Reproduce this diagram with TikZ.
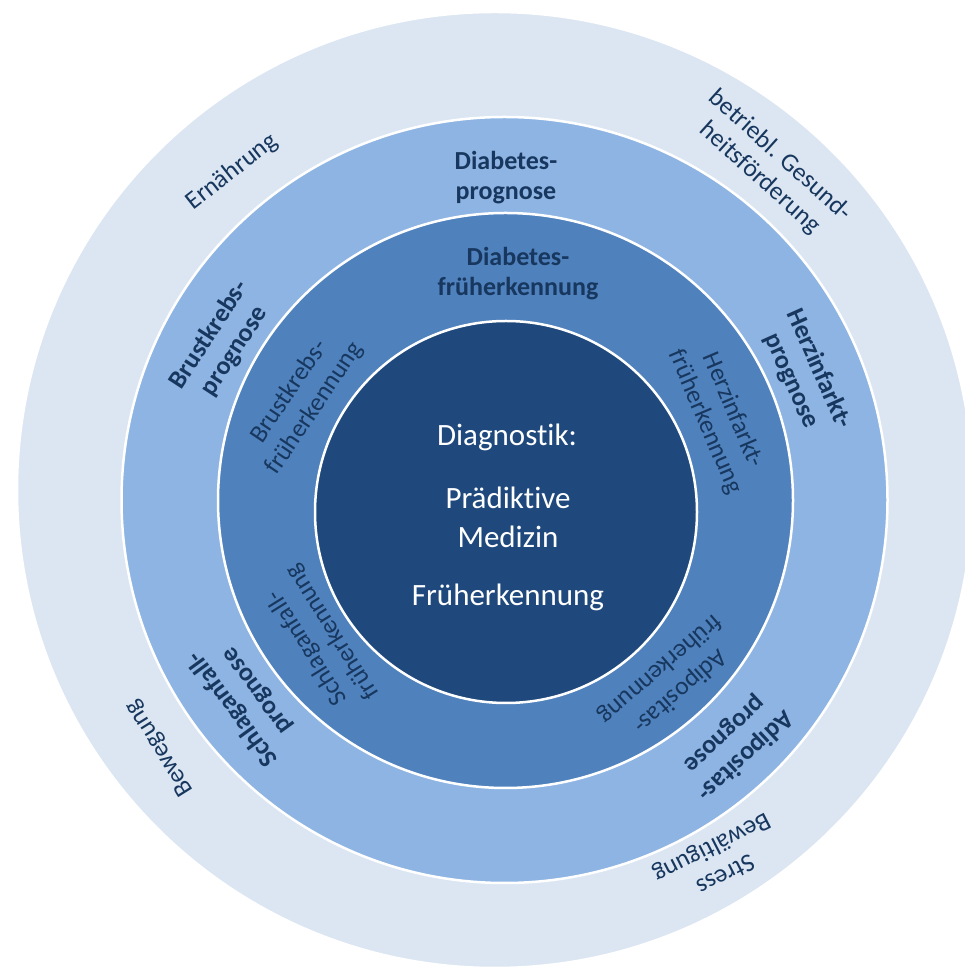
\documentclass[tikz,border=0pt]{standalone}
\usepackage{fontspec}
\setmainfont{Carlito}[Ligatures=NoCommon]
\usetikzlibrary{positioning}
\definecolor{ringout}{HTML}{DCE6F2}
\definecolor{ringmid}{HTML}{8EB4E3}
\definecolor{ringin}{HTML}{4F81BD}
\definecolor{coreblue}{HTML}{1F497D}
\definecolor{txtblue}{HTML}{17375E}

\begin{document}
\begin{tikzpicture}[x=1pt,y=1pt,
    ring/.style={draw=white,line width=2.5pt},
    lbl/.style={text=txtblue,align=center,font=\fontsize{25.5}{30}\selectfont},
    lblb/.style={lbl,font=\fontsize{26}{30}\selectfont\bfseries},
    core/.style={text=white,align=center,font=\fontsize{31}{39}\selectfont}]
    \useasboundingbox (0,0) rectangle (965,969);
    \fill[white] (0,0) rectangle (965,969);
    \clip (0,0) rectangle (965,969);

    % rings, outside in
    \draw[ring,fill=ringout] (495,479) circle (478);
    \draw[ring,fill=ringmid] (504.5,469) circle (383);
    \draw[ring,fill=ringin] (505.5,468.5) circle (287.5);
    \draw[ring,fill=coreblue] (506,457) circle (191);

    % centre
    \node[core] (diag) at (507,532) {Diagnostik:};
    \node[core] (praed) at (508,452) {Prädiktive\\Medizin};
    \node[core] (frueh) at (508,372) {Früherkennung};

    % inner ring
    \node[lblb] (diafrueh) at (518,695) {Diabetes-\\früherkennung};
    \node[lbl,rotate=56] (brufrueh) at (302,569) {Brustkrebs-\\früherkennung};
    \node[lbl,rotate=-67] (herzfrueh) at (719,553) {Herzinfarkt-\\früherkennung};
    \node[lbl,rotate=122] (schlfrueh) at (320,329) {Schlaganfall-\\früherkennung};
    \node[lbl,rotate=221] (adifrueh) at (670,289) {Adipositas-\\früherkennung};

    % middle ring
    \node[lblb] (diapro) at (506,791) {Diabetes-\\prognose};
    \node[lblb,rotate=57] (brupro) at (222,626) {Brustkrebs-\\prognose};
    \node[lblb,rotate=-66] (herzpro) at (805,594) {Herzinfarkt-\\prognose};
    \node[lblb,rotate=126] (schlpro) at (245,269) {Schlaganfall-\\prognose};
    \node[lblb,rotate=223] (adipro) at (735,224) {Adipositas-\\prognose};

    % outer ring
    \node[lbl,rotate=38] (ernae) at (232,797) {Ernährung};
    \node[lbl,rotate=-42] (bgf) at (770,802) {betriebl. Gesund-\\heitsförderung};
    \node[lbl,rotate=122] (beweg) at (160,221) {Bewegung};
    \node[lbl,rotate=207] (stress) at (718,109) {Stress\\Bewältigung};
\end{tikzpicture}
\end{document}
